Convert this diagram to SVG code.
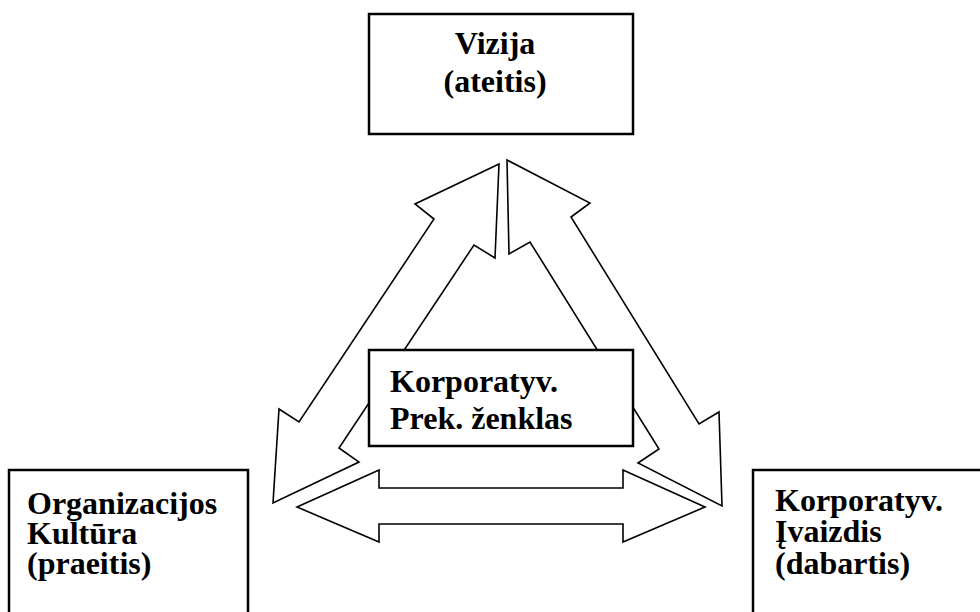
<svg xmlns="http://www.w3.org/2000/svg" width="980" height="612" viewBox="0 0 980 612">
  <style>
    .box { fill: #ffffff; stroke: #000000; stroke-width: 2.5; }
    .arrow { fill: #ffffff; stroke: #000000; stroke-width: 1.6; stroke-linejoin: miter; }
    .label { font-family: "Liberation Serif", "Times New Roman", serif; font-weight: bold; font-size: 32px; fill: #000000; }
  </style>
  <rect width="980" height="612" fill="#ffffff"/>

  <!-- block arrows linking the three corners -->
  <g id="connectors">
    <!-- left side: Vizija <-> Organizacijos Kultura -->
    <polygon class="arrow" points="499,164 415,204 434,219 299,422 279,409 273,503 359,462 339,448 474,245 495,258"/>
    <!-- right side: Vizija <-> Korporatyv. Ivaizdis -->
    <polygon class="arrow" points="507,160 590,203 571,217 699,424 719,412 722,506 638,463 659,449 530,242 509,254"/>
    <!-- bottom: Kultura <-> Ivaizdis -->
    <polygon class="arrow" points="297,507 379,470 379,488 623,488 623,470 705,507 623,542 623,524 379,524 379,542"/>
  </g>

  <g id="node-vizija">
    <rect class="box" x="369" y="14" width="264" height="120"/>
    <text class="label" x="495" y="54" text-anchor="middle">Vizija</text>
    <text class="label" x="495" y="92" text-anchor="middle">(ateitis)</text>
  </g>

  <g id="node-zenklas">
    <rect class="box" x="369" y="350" width="264" height="96"/>
    <text class="label" x="390" y="392">Korporatyv.</text>
    <text class="label" x="390" y="429">Prek. ženklas</text>
  </g>

  <g id="node-kultura">
    <rect class="box" x="9" y="470" width="239" height="160"/>
    <text class="label" x="27" y="514">Organizacijos</text>
    <text class="label" x="27" y="544">Kultūra</text>
    <text class="label" x="27" y="574">(praeitis)</text>
  </g>

  <g id="node-ivaizdis">
    <rect class="box" x="753" y="470" width="240" height="160"/>
    <text class="label" x="775" y="511">Korporatyv.</text>
    <text class="label" x="775" y="542">Įvaizdis</text>
    <text class="label" x="775" y="574">(dabartis)</text>
  </g>
</svg>
